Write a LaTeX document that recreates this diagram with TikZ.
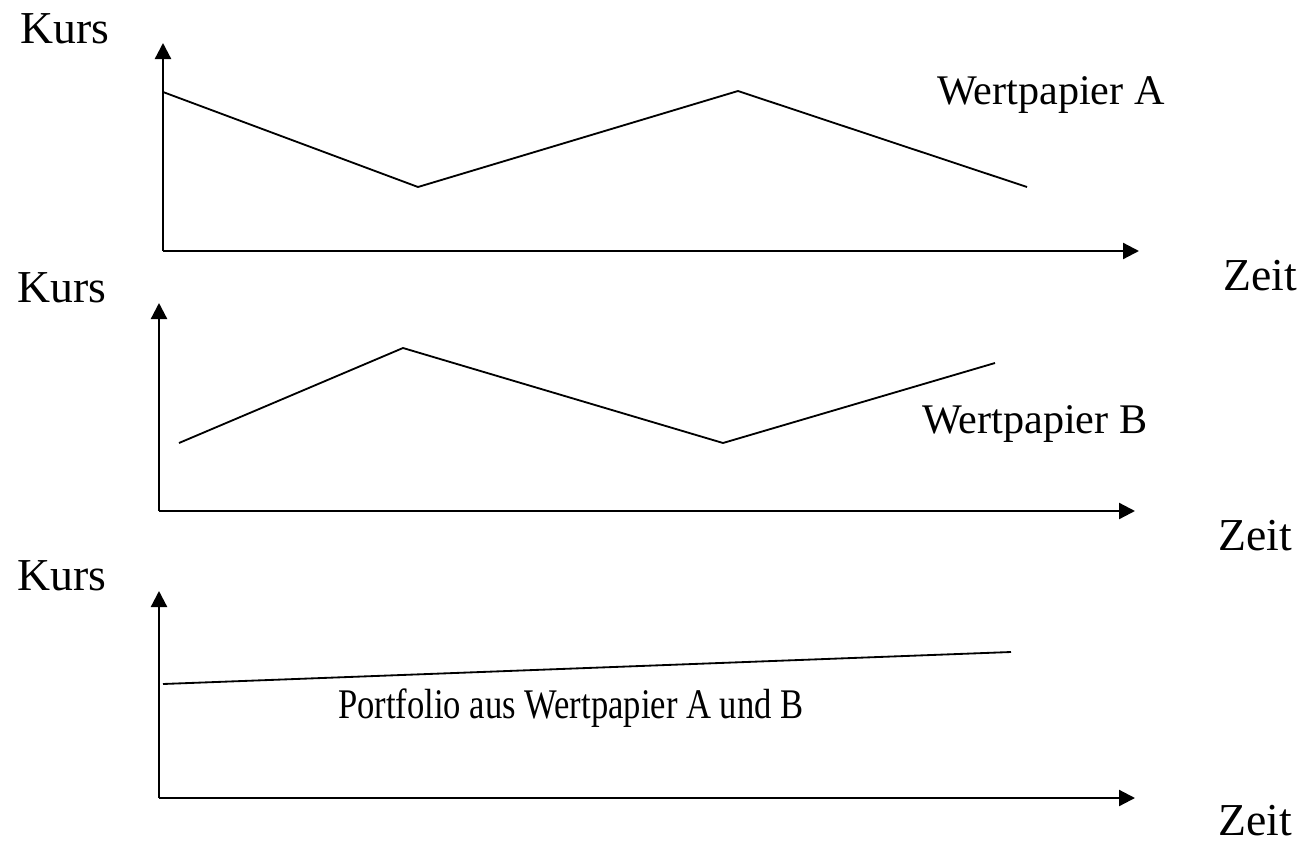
\documentclass[tikz,border=0pt]{standalone}
\usepackage{fontspec}
\setmainfont{Liberation Serif}
\usetikzlibrary{arrows, arrows.meta}
\usetikzlibrary{calc}

\begin{document}
\begin{tikzpicture}[x=0.025cm, y=-0.025cm,
    achse/.style={line width=1.6pt, -{Triangle[length=0.4cm, width=0.4cm]}},
    kurve/.style={line width=1.3pt, line join=miter},
    beschr/.style={anchor=base west, inner sep=0pt, font=\fontsize{30}{36}\selectfont},
    achsbeschr/.style={beschr, font=\fontsize{32.5}{39}\selectfont}]
    \useasboundingbox (0,0) rectangle (1305,842);

    % Wertpapier A
    \coordinate (o1) at (163,251);
    \coordinate (y1) at (163,43);
    \coordinate (x1) at (1139,251);
    \draw[achse] (o1) -- (y1);
    \draw[achse] (o1) -- (x1);
    \node[achsbeschr] (kurs1) at (20,43) {Kurs};
    \node[achsbeschr] (zeit1) at (1223,290) {Zeit};
    \node[beschr] (wpA) at (937,104) {Wertpapier A};
    \draw[kurve] (163,92) -- (418,187) -- (738,91) -- (1027,187);

    % Wertpapier B
    \coordinate (o2) at (159,511);
    \coordinate (y2) at (159,303);
    \coordinate (x2) at (1135,511);
    \draw[achse] (o2) -- (y2);
    \draw[achse] (o2) -- (x2);
    \node[achsbeschr] (kurs2) at (17,302) {Kurs};
    \node[achsbeschr] (zeit2) at (1218,550) {Zeit};
    \node[beschr] (wpB) at (922,433) {Wertpapier B};
    \draw[kurve] (179,443) -- (403,348) -- (723,443) -- (995,363);

    % Portfolio
    \coordinate (o3) at (159,798);
    \coordinate (y3) at (159,591);
    \coordinate (x3) at (1135,798);
    \draw[achse] (o3) -- (y3);
    \draw[achse] (o3) -- (x3);
    \node[achsbeschr] (kurs3) at (17,590) {Kurs};
    \node[achsbeschr] (zeit3) at (1218,835) {Zeit};
    \node[beschr] (port) at (338,718) {\scalebox{0.82}[1]{Portfolio aus Wertpapier A und B}};
    \draw[kurve] (163,684) -- (1011,652);
\end{tikzpicture}
\end{document}
